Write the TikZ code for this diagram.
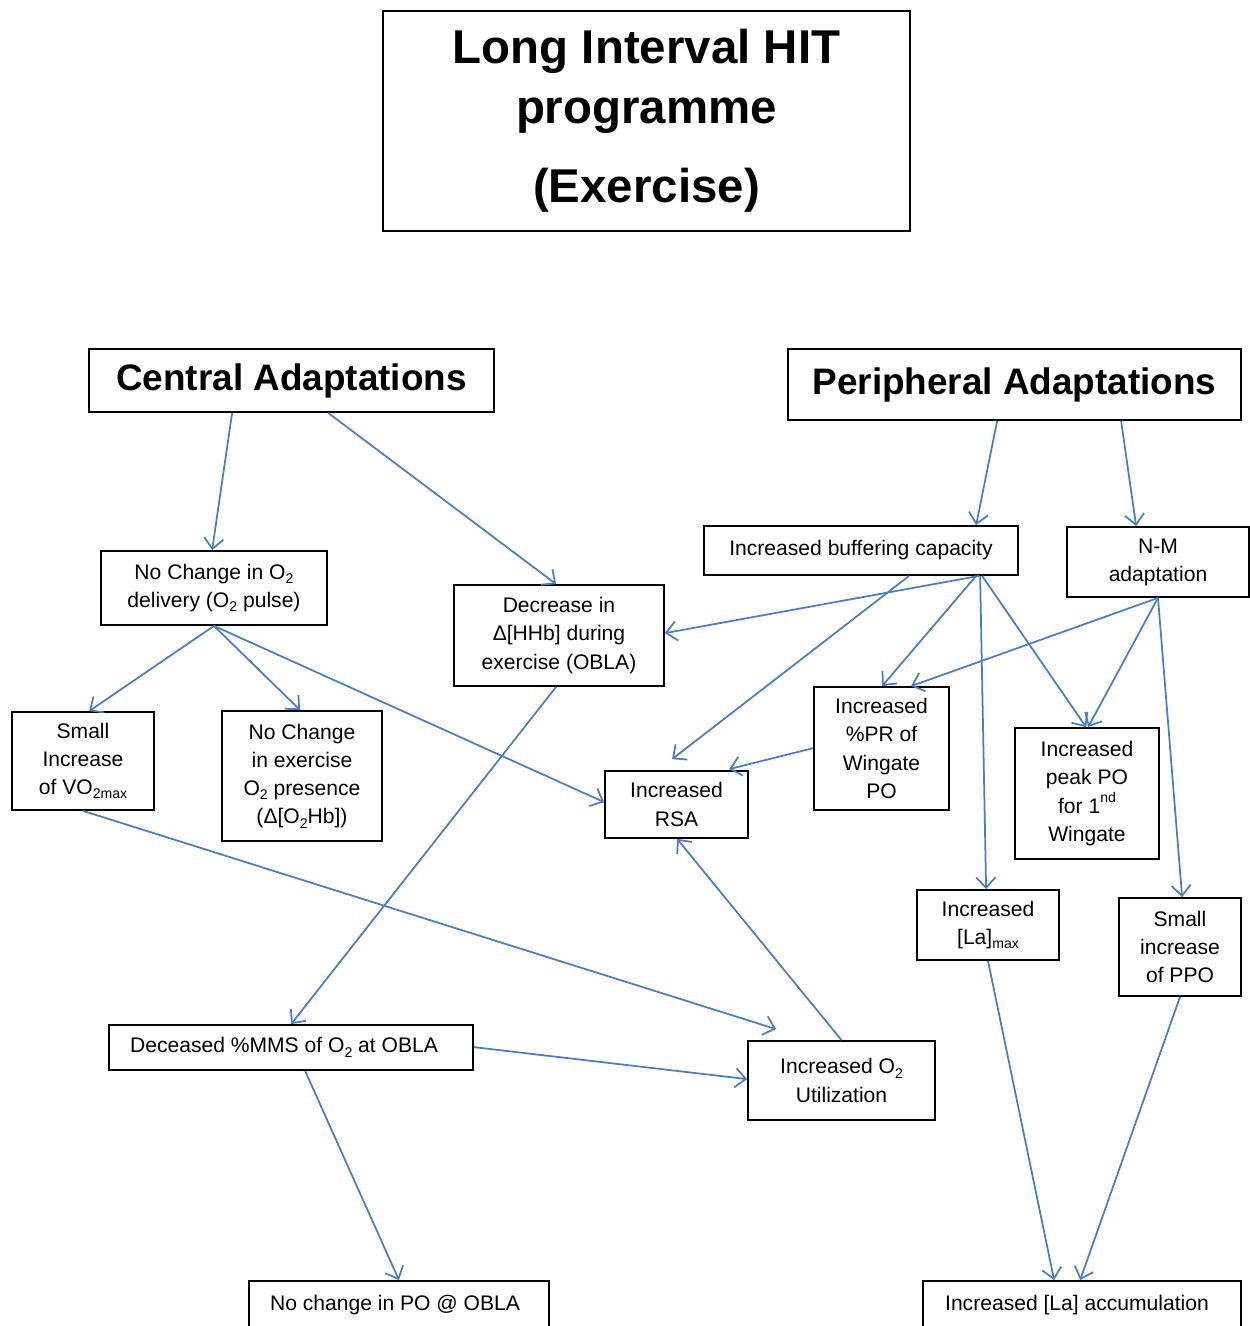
\documentclass[tikz,border=0pt]{standalone}
\usepackage{fontspec}
\setmainfont{Liberation Sans}
\usetikzlibrary{arrows.meta,calc}
\newlength\pxl
\setlength\pxl{0.02cm}
\newcommand\dn[1]{\raisebox{-0.4ex}{\fontsize{8}{8}\selectfont #1}}
\newcommand\up[1]{\raisebox{0.9ex}{\fontsize{8}{8}\selectfont #1}}
\tikzset{
  box/.style={draw=black, line width=1pt, align=center, inner sep=0pt,
    font=\fontsize{12}{16}\selectfont},
  bigbox/.style={box, font=\bfseries\fontsize{21}{25}\selectfont},
  conn/.style={draw={rgb,255:red,74;green,126;blue,193}, line width=1pt,
    -{Straight Barb[length=6pt,width=11pt]}},
}
\begin{document}
\begin{tikzpicture}[x=0.02cm, y=-0.02cm]
\useasboundingbox (0,0) rectangle (1250,1326);
\fill[white] (0,0) rectangle (1250,1326);

\node[box, font=\bfseries\fontsize{27}{34}\selectfont, minimum width=527\pxl, minimum height=220\pxl]
  (title) at (646.5,121) {Long Interval HIT\\programme\\[11pt](Exercise)};

\node[bigbox, minimum width=405\pxl, minimum height=63\pxl] (cen) at (291.5,380.5) {Central Adaptations};
\node[bigbox, minimum width=453\pxl, minimum height=71\pxl] (per) at (1014.5,384.5) {Peripheral Adaptations};

\node[box, minimum width=314\pxl, minimum height=49\pxl] (buf) at (861,550.5) {Increased buffering capacity};
\node[box, minimum width=182\pxl, minimum height=70\pxl] (nm) at (1158,562) {N-M\\adaptation};
\node[box, minimum width=226\pxl, minimum height=74\pxl] (ncd) at (214,588) {No Change in O\dn{2}\\delivery (O\dn{2} pulse)};
\node[box, minimum width=210\pxl, minimum height=101\pxl] (hhb) at (559,635.5) {Decrease in\\Δ[HHb] during\\exercise (OBLA)};
\node[box, minimum width=142\pxl, minimum height=98\pxl] (svo) at (83,761) {Small\\Increase\\of VO\dn{2max}};
\node[box, minimum width=160\pxl, minimum height=130\pxl] (nce) at (302,776) {No Change\\in exercise\\O\dn{2} presence\\(Δ[O\dn{2}Hb])};
\node[box, minimum width=143\pxl, minimum height=67\pxl] (rsa) at (676.5,804.5) {Increased\\RSA};
\node[box, minimum width=135\pxl, minimum height=123\pxl] (pr) at (881.5,748.5) {Increased\\\%PR of\\Wingate\\PO};
\node[box, minimum width=144\pxl, minimum height=131\pxl] (peak) at (1087,793.5) {Increased\\peak PO\\for 1\up{nd}\\Wingate};
\node[box, minimum width=142\pxl, minimum height=70\pxl] (la) at (988,925) {Increased\\[0pt][La]\dn{max}};
\node[box, minimum width=122\pxl, minimum height=98\pxl] (ppo) at (1180,947) {Small\\increase\\of PPO};
\node[box, minimum width=364\pxl, minimum height=45\pxl] (mms) at (291,1047.5) {Deceased \%MMS of O\dn{2} at OBLA\hspace*{14\pxl}};
\node[box, minimum width=187\pxl, minimum height=79\pxl] (util) at (841.5,1080.5) {Increased O\dn{2}\\Utilization};
\node[box, minimum width=300\pxl, minimum height=49\pxl] (po) at (399,1305.5) {No change in PO @ OBLA\hspace*{8\pxl}};
\node[box, minimum width=318\pxl, minimum height=49\pxl] (acc) at (1082,1305.5) {Increased [La] accumulation\hspace*{10\pxl}};

% connectors
\draw[conn] ($(cen.south west)+(144,0)$) -- ($(ncd.north west)+(112,0)$);
\draw[conn] ($(cen.south west)+(240,0)$) -- ($(hhb.north west)+(103,0)$);
\draw[conn] ($(per.south west)+(210,0)$) -- ($(buf.north west)+(273,0)$);
\draw[conn] ($(per.south west)+(334,0)$) -- ($(nm.north west)+(70,0)$);

\draw[conn] (ncd.south) -- ($(svo.north west)+(78,0)$);
\draw[conn] (ncd.south) -- ($(nce.north west)+(79,0)$);
\draw[conn] (ncd.south) -- ($(rsa.north west)+(0,32)$);

\draw[conn] ($(hhb.south west)+(103,0)$) -- ($(mms.north west)+(183,0)$);
\draw[conn] (svo.south) -- ($(util.north west)+(29,-11)$);

\draw[conn] ($(buf.south west)+(276,0)$) -- ($(hhb.north east)+(0,49)$);
\draw[conn] ($(buf.south west)+(206,0)$) -- ($(rsa.north west)+(68,-11)$);
\draw[conn] ($(buf.south west)+(273,0)$) -- ($(pr.north west)+(69,0)$);
\draw[conn] ($(buf.south west)+(277,0)$) -- ($(la.north west)+(70,0)$);
\draw[conn] ($(buf.south west)+(279,0)$) -- ($(peak.north west)+(72,0)$);

\draw[conn] (nm.south) -- ($(pr.north west)+(98,0)$);
\draw[conn] (nm.south) -- ($(peak.north west)+(74,0)$);
\draw[conn] (nm.south) -- ($(ppo.north west)+(64,0)$);

\draw[conn] ($(pr.north west)+(0,62)$) -- ($(rsa.north west)+(125,-1)$);
\draw[conn] (util.north) -- ($(rsa.south west)+(73,0)$);
\draw[conn] ($(mms.north east)+(0,23)$) -- ($(util.north west)+(0,39)$);
\draw[conn] ($(mms.south west)+(197,0)$) -- (po.north);
\draw[conn] (la.south) -- ($(acc.north west)+(132,0)$);
\draw[conn] (ppo.south) -- ($(acc.north west)+(158,0)$);
\end{tikzpicture}
\end{document}
